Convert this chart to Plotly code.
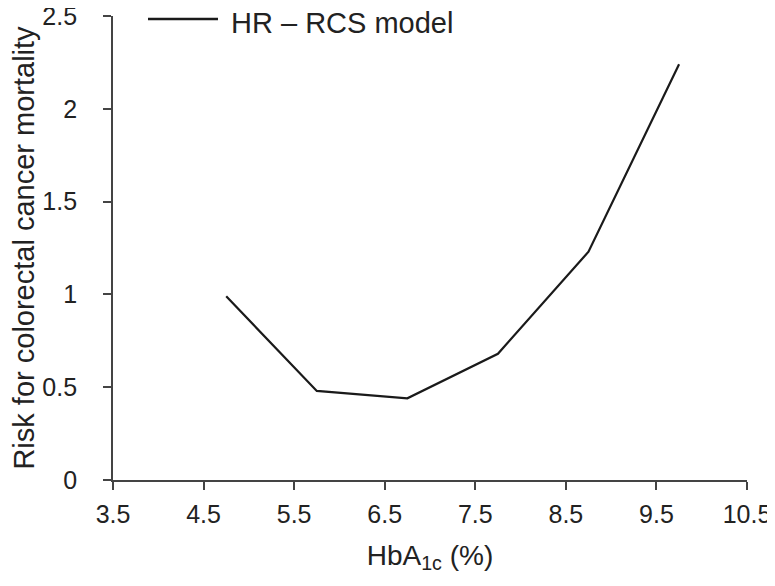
import plotly.graph_objects as go

hba1c = [4.75, 5.75, 6.75, 7.75, 8.75, 9.75]
hr_rcs = [0.99, 0.48, 0.44, 0.68, 1.23, 2.24]
x_ticks = [3.5, 4.5, 5.5, 6.5, 7.5, 8.5, 9.5, 10.5]
y_ticks = [0, 0.5, 1, 1.5, 2, 2.5]
series_name = "HR \u2013 RCS model"

FONT = "Liberation Sans, Arial, Helvetica, sans-serif"
TXT = "#222222"
AX = "#444444"

fig = go.Figure()
fig.add_trace(go.Scatter(
    x=hba1c, y=hr_rcs, mode="lines", name=series_name,
    line=dict(color="#1a1a1a", width=2.2), showlegend=False,
))

# manual legend (long sample line like the reference)
fig.add_shape(type="line", xref="paper", yref="paper",
              x0=0.0552, x1=0.1656, y0=0.9935, y1=0.9935,
              line=dict(color="#1a1a1a", width=2.5))
fig.add_annotation(xref="paper", yref="paper", x=0.183, y=0.984,
                   xanchor="left", yanchor="middle", showarrow=False,
                   text=series_name, font=dict(family=FONT, size=29, color=TXT))

# page body has an 8px margin: compensate so the plot area lands where the reference has it
fig.update_layout(
    template="none",
    width=775, height=586,
    margin=dict(l=105, r=36, t=8, b=114, autoexpand=False),
    paper_bgcolor="white", plot_bgcolor="white",
    font=dict(family=FONT, size=24, color=TXT),
    showlegend=False,
)
fig.update_xaxes(
    range=[3.5, 10.5], tickvals=x_ticks, ticktext=[str(v) for v in x_ticks],
    showline=True, linewidth=2, linecolor=AX, ticks="outside", ticklen=8,
    tickwidth=2, tickcolor=AX, showgrid=False, zeroline=False, automargin=False,
    ticklabelstandoff=3, ticklabeloverflow="allow",
    tickfont=dict(family=FONT, size=25, color=TXT),
    title=dict(text="HbA<sub>1c</sub> (%)", font=dict(family=FONT, size=28, color=TXT), standoff=18),
)
fig.update_yaxes(
    range=[0, 2.5], tickvals=y_ticks, ticktext=[f"{v:g}\u00a0" for v in y_ticks],
    showline=True, linewidth=2, linecolor=AX, ticks="outside", ticklen=8,
    tickwidth=2, tickcolor=AX, showgrid=False, zeroline=False, automargin=False,
    ticklabelstandoff=14, ticklabeloverflow="allow",
    tickfont=dict(family=FONT, size=25, color=TXT),
    title=dict(text="Risk for colorectal cancer mortality", font=dict(family=FONT, size=29, color=TXT), standoff=22),
)

fig.write_html("out.html")
